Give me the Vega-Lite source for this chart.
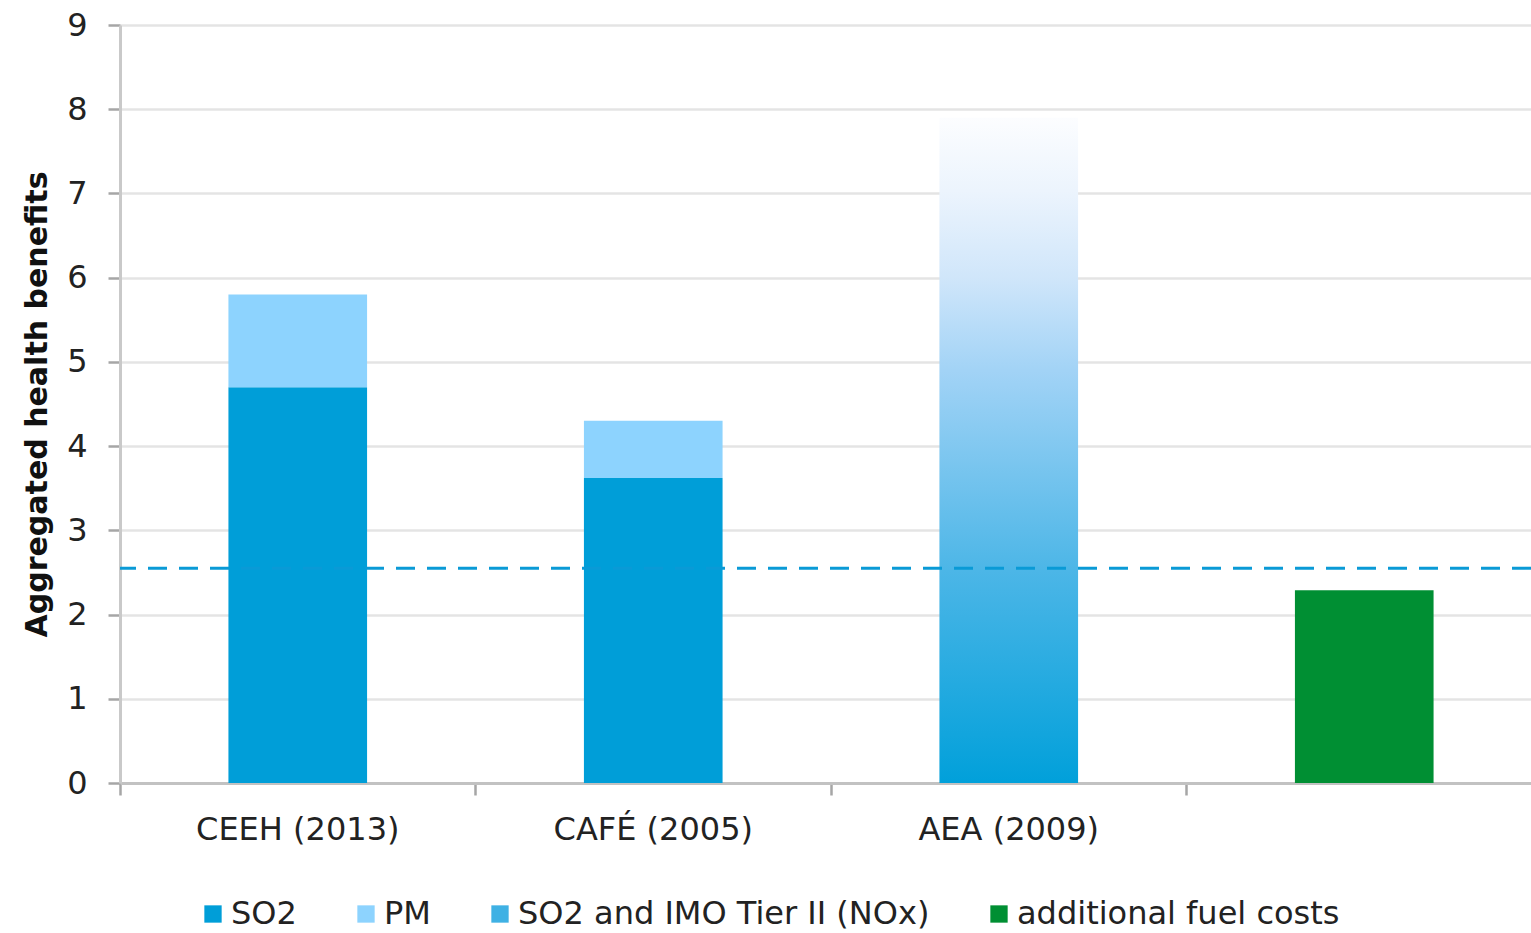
{
  "$schema": "https://vega.github.io/schema/vega-lite/v6.json",
  "width": 1411,
  "height": 758,
  "autosize": {"type": "none"},
  "padding": {"left": 120, "top": 25, "right": 0, "bottom": 150},
  "background": "white",
  "config": {"view": {"stroke": null}, "font": "DejaVu Sans"},
  "datasets": {
    "bars": [
      {"study": "CEEH (2013)", "series": "SO2", "value": 4.70, "stack": 1},
      {"study": "CEEH (2013)", "series": "PM", "value": 1.10, "stack": 2},
      {"study": "CAFÉ (2005)", "series": "SO2", "value": 3.62, "stack": 1},
      {"study": "CAFÉ (2005)", "series": "PM", "value": 0.68, "stack": 2},
      {"study": "AEA (2009)", "series": "SO2 and IMO Tier II (NOx)", "value": 7.9, "stack": 1},
      {"study": "Fuel costs", "series": "additional fuel costs", "value": 2.29, "stack": 1}
    ],
    "reference": [{"value": 2.55}]
  },
  "layer": [
    {
      "data": {"name": "bars"},
      "mark": {"type": "bar", "width": {"band": 0.39}},
      "encoding": {
        "x": {
          "field": "study", "type": "nominal", "sort": null,
          "scale": {"range": [0, 1422], "paddingInner": 0, "paddingOuter": 0},
          "axis": {
            "title": null, "bandPosition": 0, "labelAngle": 0,
            "labelFontSize": 32, "labelColor": "#222222", "labelPadding": 19, "labelLimit": 500,
            "tickSize": 12, "tickColor": "#a6a6a6", "tickWidth": 2.5,
            "domainColor": "#c2c2c2", "domainWidth": 3, "grid": false,
            "labelExpr": "datum.value == 'Fuel costs' ? '' : datum.label"
          }
        },
        "y": {
          "field": "value", "type": "quantitative", "stack": "zero",
          "scale": {"domain": [0, 9], "nice": false},
          "axis": {
            "title": "Aggregated health benefits", "titleFontWeight": "bold", "titleFontSize": 30,
            "titleColor": "#111111", "titlePadding": 14,
            "values": [0, 1, 2, 3, 4, 5, 6, 7, 8, 9], "format": "d",
            "labelFontSize": 32, "labelColor": "#222222", "labelPadding": 21,
            "tickSize": 12, "tickColor": "#a6a6a6", "tickWidth": 2.5,
            "domainColor": "#c9c9c9", "domainWidth": 3,
            "grid": true, "gridColor": "#e4e4e4", "gridWidth": 2.5
          }
        },
        "color": {
          "condition": {
            "test": "datum.series == 'SO2 and IMO Tier II (NOx)'",
            "value": {"gradient": "linear", "x1": 0, "y1": 1, "x2": 0, "y2": 0,
              "stops": [
                {"offset": 0, "color": "#01a0da"},
                {"offset": 0.32, "color": "#4cb6e7"},
                {"offset": 0.62, "color": "#a2d3f6"},
                {"offset": 0.76, "color": "#d0e6fa"},
                {"offset": 0.89, "color": "#ecf4fd"},
                {"offset": 1, "color": "#fcfdff"}
              ]}
          },
          "field": "series", "type": "nominal",
          "scale": {
            "domain": ["SO2", "PM", "SO2 and IMO Tier II (NOx)", "additional fuel costs"],
            "range": ["#009ed8", "#8dd3fe", "#3fb1e4", "#008f33"]
          },
          "legend": {
            "title": null, "orient": "none", "legendX": 77, "legendY": 873,
            "direction": "horizontal", "symbolType": "square", "symbolSize": 300,
            "symbolStrokeWidth": 0, "labelFontSize": 32, "labelColor": "#222222",
            "labelOffset": 2, "columnPadding": 53, "padding": 0, "labelLimit": 800
          }
        },
        "order": {"field": "stack", "type": "quantitative"}
      }
    },
    {
      "data": {"name": "reference"},
      "mark": {"type": "rule", "color": "#0a9ad6", "strokeWidth": 3, "strokeDash": [19, 12]},
      "encoding": {"y": {"field": "value", "type": "quantitative"}}
    }
  ]
}
